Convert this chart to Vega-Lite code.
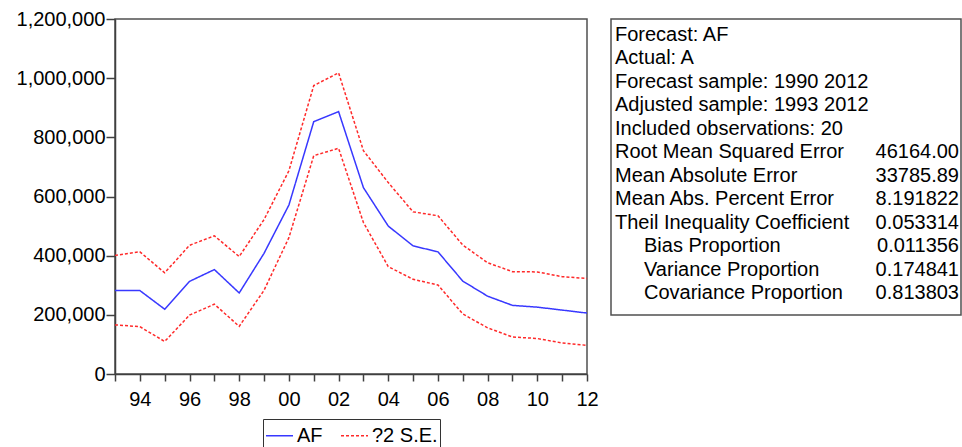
{
  "$schema": "https://vega.github.io/schema/vega-lite/v6.json",
  "padding": {"left": 15, "top": 8, "right": 0, "bottom": 0},
  "autosize": {"type": "pad"},
  "background": "white",
  "spacing": 24,
  "bounds": "flush",
  "config": {
    "axis": {"labelFont": "Liberation Sans", "labelFontSize": 20, "labelColor": "#000", "domainColor": "#404040", "tickColor": "#404040", "domainWidth": 1.5, "tickWidth": 1.5, "grid": false},
    "view": {"stroke": "#505050", "strokeWidth": 1.5},
    "text": {"font": "Liberation Sans", "fontSize": 20}
  },
  "resolve": {
    "scale": {"color": "independent", "strokeDash": "independent", "x": "independent", "y": "independent"},
    "legend": {"color": "independent", "strokeDash": "independent"}
  },
  "hconcat": [
    {
      "width": 472,
      "height": 355,
      "data": {"values": [
        {"year": 1993, "series": "AF", "line": "AF", "value": 282000},
        {"year": 1994, "series": "AF", "line": "AF", "value": 282000},
        {"year": 1995, "series": "AF", "line": "AF", "value": 219000},
        {"year": 1996, "series": "AF", "line": "AF", "value": 313000},
        {"year": 1997, "series": "AF", "line": "AF", "value": 353000},
        {"year": 1998, "series": "AF", "line": "AF", "value": 274000},
        {"year": 1999, "series": "AF", "line": "AF", "value": 408000},
        {"year": 2000, "series": "AF", "line": "AF", "value": 571000},
        {"year": 2001, "series": "AF", "line": "AF", "value": 853000},
        {"year": 2002, "series": "AF", "line": "AF", "value": 887000},
        {"year": 2003, "series": "AF", "line": "AF", "value": 630000},
        {"year": 2004, "series": "AF", "line": "AF", "value": 500000},
        {"year": 2005, "series": "AF", "line": "AF", "value": 433000},
        {"year": 2006, "series": "AF", "line": "AF", "value": 413000},
        {"year": 2007, "series": "AF", "line": "AF", "value": 314000},
        {"year": 2008, "series": "AF", "line": "AF", "value": 263000},
        {"year": 2009, "series": "AF", "line": "AF", "value": 232000},
        {"year": 2010, "series": "AF", "line": "AF", "value": 226000},
        {"year": 2011, "series": "AF", "line": "AF", "value": 216000},
        {"year": 2012, "series": "AF", "line": "AF", "value": 206000},
        {"year": 1993, "series": "?2 S.E.", "line": "upper", "value": 401000},
        {"year": 1994, "series": "?2 S.E.", "line": "upper", "value": 413000},
        {"year": 1995, "series": "?2 S.E.", "line": "upper", "value": 342000},
        {"year": 1996, "series": "?2 S.E.", "line": "upper", "value": 435000},
        {"year": 1997, "series": "?2 S.E.", "line": "upper", "value": 467000},
        {"year": 1998, "series": "?2 S.E.", "line": "upper", "value": 397000},
        {"year": 1999, "series": "?2 S.E.", "line": "upper", "value": 522000},
        {"year": 2000, "series": "?2 S.E.", "line": "upper", "value": 687000},
        {"year": 2001, "series": "?2 S.E.", "line": "upper", "value": 975000},
        {"year": 2002, "series": "?2 S.E.", "line": "upper", "value": 1018000},
        {"year": 2003, "series": "?2 S.E.", "line": "upper", "value": 755000},
        {"year": 2004, "series": "?2 S.E.", "line": "upper", "value": 647000},
        {"year": 2005, "series": "?2 S.E.", "line": "upper", "value": 548000},
        {"year": 2006, "series": "?2 S.E.", "line": "upper", "value": 535000},
        {"year": 2007, "series": "?2 S.E.", "line": "upper", "value": 436000},
        {"year": 2008, "series": "?2 S.E.", "line": "upper", "value": 376000},
        {"year": 2009, "series": "?2 S.E.", "line": "upper", "value": 346000},
        {"year": 2010, "series": "?2 S.E.", "line": "upper", "value": 345000},
        {"year": 2011, "series": "?2 S.E.", "line": "upper", "value": 329000},
        {"year": 2012, "series": "?2 S.E.", "line": "upper", "value": 323000},
        {"year": 1993, "series": "?2 S.E.", "line": "lower", "value": 166000},
        {"year": 1994, "series": "?2 S.E.", "line": "lower", "value": 160000},
        {"year": 1995, "series": "?2 S.E.", "line": "lower", "value": 110000},
        {"year": 1996, "series": "?2 S.E.", "line": "lower", "value": 199000},
        {"year": 1997, "series": "?2 S.E.", "line": "lower", "value": 236000},
        {"year": 1998, "series": "?2 S.E.", "line": "lower", "value": 161000},
        {"year": 1999, "series": "?2 S.E.", "line": "lower", "value": 283000},
        {"year": 2000, "series": "?2 S.E.", "line": "lower", "value": 461000},
        {"year": 2001, "series": "?2 S.E.", "line": "lower", "value": 738000},
        {"year": 2002, "series": "?2 S.E.", "line": "lower", "value": 763000},
        {"year": 2003, "series": "?2 S.E.", "line": "lower", "value": 512000},
        {"year": 2004, "series": "?2 S.E.", "line": "lower", "value": 363000},
        {"year": 2005, "series": "?2 S.E.", "line": "lower", "value": 320000},
        {"year": 2006, "series": "?2 S.E.", "line": "lower", "value": 301000},
        {"year": 2007, "series": "?2 S.E.", "line": "lower", "value": 203000},
        {"year": 2008, "series": "?2 S.E.", "line": "lower", "value": 156000},
        {"year": 2009, "series": "?2 S.E.", "line": "lower", "value": 125000},
        {"year": 2010, "series": "?2 S.E.", "line": "lower", "value": 120000},
        {"year": 2011, "series": "?2 S.E.", "line": "lower", "value": 105000},
        {"year": 2012, "series": "?2 S.E.", "line": "lower", "value": 97000}
      ]},
      "mark": {"type": "line", "strokeWidth": 1.5},
      "encoding": {
        "x": {
          "field": "year", "type": "quantitative",
          "scale": {"domain": [1993, 2012], "nice": false, "zero": false},
          "axis": {
            "values": [1993, 1994, 1995, 1996, 1997, 1998, 1999, 2000, 2001, 2002, 2003, 2004, 2005, 2006, 2007, 2008, 2009, 2010, 2011, 2012],
            "format": "d",
            "labelExpr": "datum.value % 2 == 0 ? substring(datum.label, 2, 4) : ''",
            "title": null, "labelFlush": false, "labelOverlap": false, "tickSize": 7, "labelPadding": 8
          }
        },
        "y": {
          "field": "value", "type": "quantitative",
          "scale": {"domain": [0, 1200000], "nice": false},
          "axis": {
            "values": [0, 200000, 400000, 600000, 800000, 1000000, 1200000],
            "format": ",d", "title": null, "labelOverlap": false, "tickSize": 9, "labelPadding": 1
          }
        },
        "color": {
          "field": "series", "type": "nominal",
          "scale": {"domain": ["AF", "?2 S.E."], "range": ["#3838ff", "#ff2a2a"]},
          "legend": {"title": null, "orient": "none", "legendX": 148, "legendY": 400, "direction": "horizontal", "strokeColor": "#333333", "padding": 2, "symbolType": "stroke", "symbolSize": 729, "symbolStrokeWidth": 1.5, "labelFont": "Liberation Sans", "labelFontSize": 20, "labelColor": "#000", "labelOffset": 3, "columnPadding": 15}
        },
        "strokeDash": {
          "field": "series", "type": "nominal",
          "scale": {"domain": ["AF", "?2 S.E."], "range": [[1, 0], [3, 2]]},
          "legend": {"title": null, "orient": "none", "legendX": 148, "legendY": 400, "direction": "horizontal", "strokeColor": "#333333", "padding": 2, "symbolType": "stroke", "symbolSize": 729, "symbolStrokeWidth": 1.5, "labelFont": "Liberation Sans", "labelFontSize": 20, "labelColor": "#000", "labelOffset": 3, "columnPadding": 15}
        },
        "detail": {"field": "line", "type": "nominal"}
      }
    },
    {
      "width": 350,
      "height": 296,
      "data": {"values": [
        {"label": "Forecast: AF", "value": "", "group": "info"},
        {"label": "Actual: A", "value": "", "group": "info"},
        {"label": "Forecast sample: 1990 2012", "value": "", "group": "info"},
        {"label": "Adjusted sample: 1993 2012", "value": "", "group": "info"},
        {"label": "Included observations: 20", "value": "", "group": "info"},
        {"label": "Root Mean Squared Error", "value": "46164.00", "group": "stat"},
        {"label": "Mean Absolute Error", "value": "33785.89", "group": "stat"},
        {"label": "Mean Abs. Percent Error", "value": "8.191822", "group": "stat"},
        {"label": "Theil Inequality Coefficient", "value": "0.053314", "group": "stat"},
        {"label": "Bias Proportion", "value": "0.011356", "group": "component"},
        {"label": "Variance Proportion", "value": "0.174841", "group": "component"},
        {"label": "Covariance Proportion", "value": "0.813803", "group": "component"}
      ]},
      "encoding": {
        "y": {"field": "label", "type": "ordinal", "sort": null, "scale": {"type": "point", "padding": 0.81, "align": 0.42}, "axis": null}
      },
      "layer": [
        {
          "transform": [{"filter": "datum.group != 'component'"}],
          "mark": {"type": "text", "align": "left", "baseline": "middle", "dx": 4, "font": "Liberation Sans", "fontSize": 20, "color": "#000"},
          "encoding": {
            "x": {"datum": 0, "type": "quantitative", "scale": {"domain": [0, 1], "nice": false, "zero": false}, "axis": null},
            "text": {"field": "label"}
          }
        },
        {
          "transform": [{"filter": "datum.group == 'component'"}],
          "mark": {"type": "text", "align": "left", "baseline": "middle", "dx": 33, "font": "Liberation Sans", "fontSize": 20, "color": "#000"},
          "encoding": {
            "x": {"datum": 0, "type": "quantitative", "scale": {"domain": [0, 1], "nice": false, "zero": false}, "axis": null},
            "text": {"field": "label"}
          }
        },
        {
          "mark": {"type": "text", "align": "right", "baseline": "middle", "dx": -2, "font": "Liberation Sans", "fontSize": 20, "color": "#000"},
          "encoding": {
            "x": {"datum": 1, "type": "quantitative", "scale": {"domain": [0, 1], "nice": false, "zero": false}, "axis": null},
            "text": {"field": "value"}
          }
        }
      ]
    }
  ]
}
